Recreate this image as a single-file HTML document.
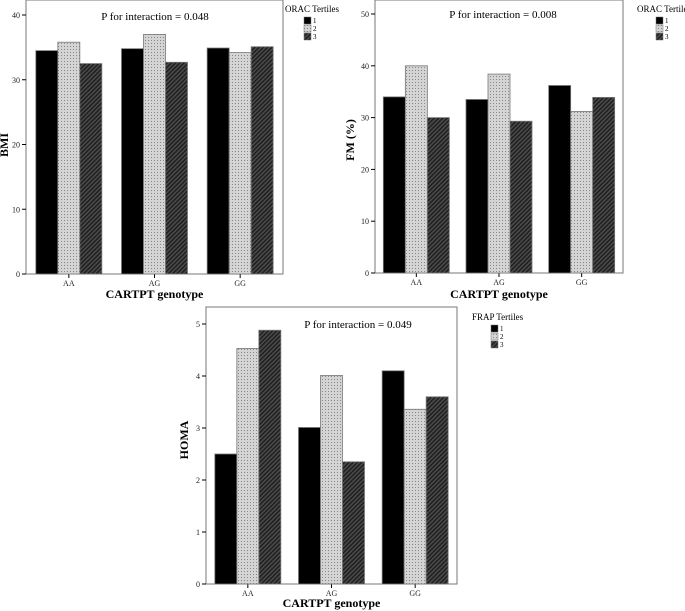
<!DOCTYPE html>
<html><head><meta charset="utf-8"><style>
body{margin:0;background:#fff;}
svg{display:block;font-family:"Liberation Serif",serif;}
</style></head><body>
<svg id="s" width="685" height="611" viewBox="0 0 685 611">
<defs>
<pattern id="dots" width="3" height="3" patternUnits="userSpaceOnUse"><rect width="3" height="3" fill="#d4d4d4"/><rect x="1" y="1" width="1" height="1" fill="#888"/></pattern>
<pattern id="hatch" width="3" height="3" patternUnits="userSpaceOnUse" patternTransform="rotate(45)"><rect width="3" height="3" fill="#4a4a4a"/><rect width="1.3" height="3" fill="#1a1a1a"/></pattern>
</defs>
</svg>
<script>
const categories = ["AA","AG","GG"];
const seriesNames = ["1","2","3"];
const bmiT1 = [34.5, 34.8, 34.9];
const bmiT2 = [35.8, 37.0, 34.2];
const bmiT3 = [32.5, 32.7, 35.1];
const fmT1 = [34.0, 33.5, 36.2];
const fmT2 = [40.0, 38.4, 31.2];
const fmT3 = [30.0, 29.3, 33.9];
const homaT1 = [2.5, 3.01, 4.1];
const homaT2 = [4.53, 4.01, 3.36];
const homaT3 = [4.88, 2.35, 3.6];
const bmiTicks = [0,10,20,30,40];
const fmTicks = [0,10,20,30,40,50];
const homaTicks = [0,1,2,3,4,5];

const svg = document.getElementById('s');
const NS = "http://www.w3.org/2000/svg";
function mk(tag, attrs, parent){const e=document.createElementNS(NS,tag);for(const k in attrs)e.setAttribute(k,attrs[k]);(parent||svg).appendChild(e);return e;}
const fills = ["#000","url(#dots)","url(#hatch)"];

function drawChart(cfg){
  const g = mk('g',{});
  
  
  const y = v => cfg.bottom - (v - 0) / (cfg.ymax) * (cfg.bottom - cfg.ytop);
  const frame = mk('rect',{x:cfg.left,y:cfg.top,width:cfg.right-cfg.left,height:cfg.bottom-cfg.top,fill:'none',stroke:'#777','stroke-width':1},g);
  
  
  cfg.ticks.forEach(t=>{
    mk('line',{x1:cfg.left-4,x2:cfg.left,y1:y(t),y2:y(t),stroke:'#000'},g);
    const tl = mk('text',{x:cfg.left-6,y:y(t)+3,'font-size':8,'text-anchor':'end',fill:'#222'},g);
    tl.textContent = t;
    
    
  });
  const bw = (cfg.right-cfg.left)/3;
  const barW = 22;
  categories.forEach((c,i)=>{
    const cx = cfg.left + bw*(i+0.5);
    mk('line',{x1:cx,x2:cx,y1:cfg.bottom,y2:cfg.bottom+4,stroke:'#000'},g);
    const xl = mk('text',{x:cx,y:cfg.bottom+12,'font-size':8,'text-anchor':'middle',fill:'#222'},g);
    xl.textContent = c;
    
    
    cfg.series.forEach((s,j)=>{
      const x0 = cx - 1.5*barW + j*barW;
      const b = mk('rect',{x:x0,y:y(s[i]),width:barW,height:cfg.bottom-y(s[i]),fill:fills[j],stroke:'#777','stroke-width':0.8},g);
      
      
    });
  });
  const t = mk('text',{x:cfg.titleX,y:cfg.titleY,'font-size':11,'text-anchor':'middle'},g);
  t.textContent = cfg.pText;
  
  
  const yt = mk('text',{x:cfg.ytX,y:cfg.ytY,'font-size':12,'font-weight':'bold','text-anchor':'middle',transform:'rotate(-90 '+cfg.ytX+' '+cfg.ytY+')'},g);
  yt.textContent = cfg.ytitle;
  
  
  const xt = mk('text',{x:(cfg.left+cfg.right)/2,y:cfg.xtY,'font-size':12,'font-weight':'bold','text-anchor':'middle'},g);
  xt.textContent = 'CARTPT genotype';
  
  
  const lt = mk('text',{x:cfg.legX,y:cfg.legY,'font-size':9},g);
  lt.textContent = cfg.legTitle;
  
  
  seriesNames.forEach((n,j)=>{
    const ly = cfg.legY + 5 + j*8;
    const sw = mk('rect',{x:cfg.legX+19,y:ly,width:7,height:7,fill:fills[j],stroke:'#777','stroke-width':0.5},g);
    
    
    const lx = mk('text',{x:cfg.legX+28,y:ly+6,'font-size':7},g);
    lx.textContent = n;
    
    
  });
}

drawChart({name:'bmi-chart',left:26,right:283,top:0,bottom:274,ytop:15,ymax:40,ticks:bmiTicks,series:[bmiT1,bmiT2,bmiT3],
  pText:'P  for interaction = 0.048',titleX:155,titleY:20,ytitle:'BMI',ytX:8,ytY:145,xtY:298,legX:285,legY:12,legTitle:'ORAC Tertiles'});
drawChart({name:'fm-chart',left:375,right:623,top:0,bottom:273,ytop:14,ymax:50,ticks:fmTicks,series:[fmT1,fmT2,fmT3],
  pText:'P  for interaction = 0.008',titleX:503,titleY:18,ytitle:'FM (%)',ytX:354,ytY:140,xtY:298,legX:637,legY:12,legTitle:'ORAC Tertiles'});
drawChart({name:'homa-chart',left:206,right:457,top:307,bottom:584,ytop:324,ymax:5,ticks:homaTicks,series:[homaT1,homaT2,homaT3],
  pText:'P  for interaction = 0.049',titleX:358,titleY:328,ytitle:'HOMA',ytX:188,ytY:440,xtY:607,legX:472,legY:320,legTitle:'FRAP Tertiles'});
</script>
</body></html>
